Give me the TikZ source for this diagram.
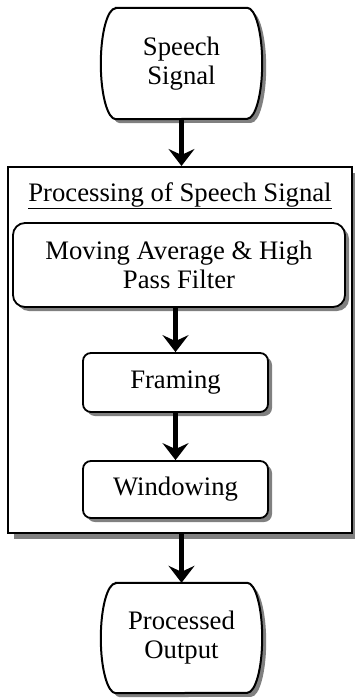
\documentclass[tikz,border=0pt]{standalone}
\usepackage{fontspec}
\setmainfont{Liberation Serif}
\usetikzlibrary{shadows,arrows.meta,backgrounds}
\definecolor{shadowgray}{HTML}{808080}
\begin{document}
\begin{tikzpicture}[x=1pt,y=1pt,
  every node/.style={font=\fontsize{26.7}{29}\selectfont, align=center},
  shad/.style={drop shadow={shadow xshift=4pt, shadow yshift=-4pt, fill=shadowgray, opacity=1}},
  procbox/.style={draw, line width=1.8pt, fill=white, shad, inner sep=0pt},
  arr/.style={line width=4.5pt, -{Stealth[length=17pt,width=26pt,inset=6pt]}},
  termtext/.style={inner sep=0pt, minimum width=131pt, minimum height=111pt},
  termline/.style={draw, line width=2pt, fill=white, shad},
]
\useasboundingbox (0,0) rectangle (354,-698);

\node[draw, line width=2pt, fill=white, minimum width=344pt, minimum height=366pt, inner sep=0pt,
  drop shadow={shadow xshift=6pt, shadow yshift=-6pt, fill=shadowgray, opacity=1}] (outer) at (180,-350) {};
\node[anchor=base, inner sep=0pt] (title) at (180,-201) {\underline{Processing of Speech Signal}};
\node[procbox, rounded corners=12pt, minimum width=332pt, minimum height=84pt] (ma) at (179,-265) {Moving Average \& High\\Pass Filter};
\node[procbox, rounded corners=8pt, minimum width=185pt, minimum height=59pt] (fr) at (175.5,-382.5) {Framing};
\node[procbox, rounded corners=8pt, minimum width=185pt, minimum height=57pt] (wi) at (175.5,-489.5) {Windowing};

\node[termtext] (start) at (181.5,-63.5) {Speech\\Signal};
\node[termtext, minimum height=110pt] (stop) at (181.5,-638) {Processed\\Output};
\begin{scope}[on background layer]
\path[termline] (start.north west) -- (start.north east)
  arc[start angle=90,end angle=-90,x radius=15,y radius=55.5] -- (start.south west)
  arc[start angle=270,end angle=90,x radius=15,y radius=55.5] -- cycle;
\path[termline] (stop.north west) -- (stop.north east)
  arc[start angle=90,end angle=-90,x radius=15,y radius=55] -- (stop.south west)
  arc[start angle=270,end angle=90,x radius=15,y radius=55] -- cycle;
\end{scope}

\draw[arr] (start.south) -- (outer.north -| start.south);
\draw[arr] (ma.south -| fr.north) -- (fr.north);
\draw[arr] (fr.south) -- (wi.north);
\draw[arr] (outer.south -| stop.north) -- (stop.north);
\end{tikzpicture}
\end{document}
